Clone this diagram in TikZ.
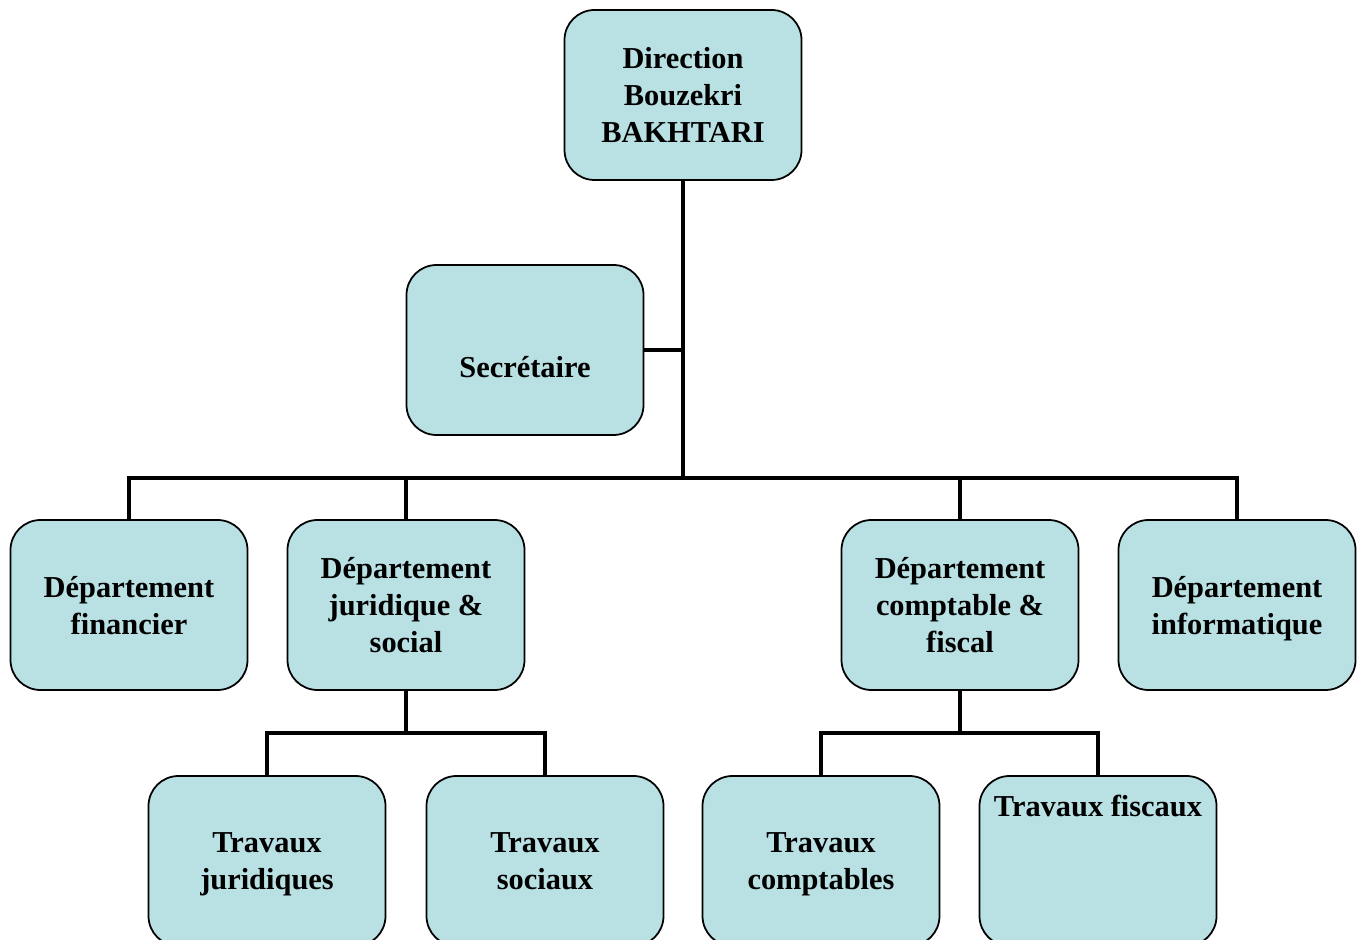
\documentclass[tikz,border=0pt]{standalone}
\usepackage{fontspec}
\setmainfont{Liberation Serif}
\definecolor{BoxCyan}{RGB}{185,224,227}
\usetikzlibrary{positioning}

\begin{document}
\begin{tikzpicture}[x=0.2mm, y=-0.2mm,
	font=\fontsize{17.3}{21}\selectfont\bfseries,
	org/.style={rectangle, rounded corners=0.6cm, draw=black, line width=1pt, fill=BoxCyan,
		minimum width=4.74cm, minimum height=3.4cm, align=center, inner sep=2pt,
		text depth=0pt, execute at begin node={\rule{0pt}{16.5pt}}},
	lien/.style={line width=2.8pt}]
	\useasboundingbox (0,0) rectangle (1363,940);
	% direction et secretariat
	\node[org] (dir) at (683,95) {Direction\\Bouzekri\\BAKHTARI};
	\node[org, label={[yshift=-0.34cm]center:Secrétaire}] (sec) at (525,350) {};
	% departements
	\foreach \n/\x/\t in {dfin/129/{Département\\financier}, djur/406/{Département\\juridique \&\\social},
		dcomp/960/{Département\\comptable \&\\fiscal}, dinfo/1237/{Département\\informatique}}
		{\node[org] (\n) at (\x,605) {\t};}
	% travaux
	\foreach \n/\x/\t in {tjur/267/{Travaux\\juridiques}, tsoc/545/{Travaux\\sociaux},
		tcomp/821/{Travaux\\comptables}}
		{\node[org] (\n) at (\x,861) {\t};}
	\node[org, label={[anchor=center, yshift=-0.62cm]north:Travaux fiscaux}] (tfisc) at (1098,861) {};
	% liaisons
	\coordinate (bus) at (683,478);
	\coordinate (jbus) at (406,733);
	\coordinate (cbus) at (960,733);
	\draw[lien] (dir.south) -- (bus);
	\draw[lien] (sec.east) -- (sec.east -| dir.south);
	\foreach \n in {dfin, djur, dcomp, dinfo}
		{\draw[lien] (bus) -| (\n.north);}
	\draw[lien] (djur.south) -- (jbus);
	\foreach \n in {tjur, tsoc}
		{\draw[lien] (jbus) -| (\n.north);}
	\draw[lien] (dcomp.south) -- (cbus);
	\foreach \n in {tcomp, tfisc}
		{\draw[lien] (cbus) -| (\n.north);}
\end{tikzpicture}
\end{document}
